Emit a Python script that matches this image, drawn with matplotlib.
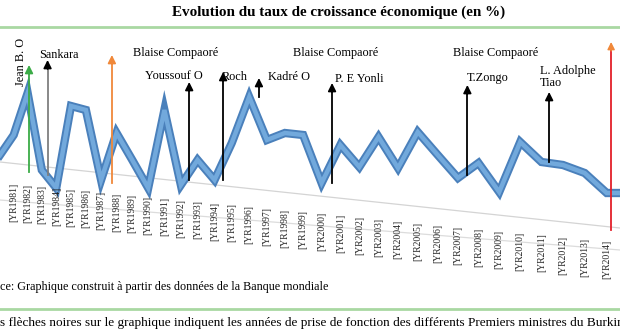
import matplotlib
matplotlib.use("Agg")
import matplotlib.pyplot as plt
import matplotlib.transforms as mtransforms
import numpy as np

# Growth rate of Burkina Faso (World Bank)
years = list(range(1980, 2016))
growth = [4.0, 6.0, 10.2, 2.5, 0.7, 8.9, 8.5, 1.5, 6.2, 3.5,
          0.7, 8.5, 1.0, 3.5, 1.5, 5.2, 9.8, 5.5, 6.2, 6.0,
          1.2, 5.0, 2.8, 5.8, 2.7, 6.3, 4.0, 1.7, 3.2, 0.3,
          5.3, 3.3, 3.0, 2.2, 0.2, 0.2]
tick_years = list(range(1981, 2015))
tick_labels = ["[YR%d]" % y for y in tick_years]

# arrows: year of taking office, bottom and top of the arrow (same units as growth)
arrow_years = [1982.1, 1983.4, 1987.7, 1992.5, 1994.5, 1996.55, 2000.56, 2007.46, 2011.36]
arrow_lo = [2.3, 2.0, 1.2, 1.5, 1.5, 9.8, 1.2, 2.0, 3.3]
arrow_hi = [13.0, 13.5, 14.0, 11.3, 12.3, 11.7, 11.2, 11.0, 10.3]
arrow_colors = ["#3bab47", "#7f7f7f", "#f0883a", "black", "black", "black", "black", "black", "black"]
red_year, red_lo, red_hi = 2014.2, -3.5, 15.3

# name labels (pixel positions on the 620x330 canvas)
names = ["Sankara", "Blaise Compaoré", "Youssouf O", "Roch", "Kadré O",
         "Blaise Compaoré", "P. E Yonli", "Blaise Compaoré", "T.Zongo", "L. Adolphe\nTiao"]
name_x = [39, 133, 145, 222, 268, 293, 335, 453, 467, 540]
name_y = [55, 53, 76, 77, 77, 53, 79, 53, 78, 77]

W, H = 620, 330
serif = "Liberation Serif"

# the scan has a perspective: years get wider to the right
A, B = 13.56, 0.126


def fwd(yr):
    t = np.asarray(yr, dtype=float) - 1980
    return A * t + B * t * t


def inv(px):
    px = np.asarray(px, dtype=float)
    return 1980 + (-A + np.sqrt(np.maximum(A * A + 4 * B * px, 0))) / (2 * B)


fig = plt.figure(figsize=(W / 100, H / 100), dpi=100)
ax = fig.add_axes([0, 0, 1, 1])
ax.set_xscale("function", functions=(fwd, inv))
ax.set_xlim(1980, float(inv(W)))
ax.set_ylim(-13.5, 19.5)
ax.set_xticks([])
ax.set_yticks([])
ax.minorticks_off()
for s in ax.spines.values():
    s.set_visible(False)

# faint skewed axis lines
ax.plot([0, 1], [1 - 162 / H, 1 - 228 / H], transform=ax.transAxes, color="#d4d4d4", lw=0.9)
ax.plot([0, 1], [1 - 200 / H, 1 - 250 / H], transform=ax.transAxes, color="#dcdcdc", lw=0.9)

# main series, light core over darker edge
ax.plot(years, growth, color="#4a80bb", lw=6, solid_joinstyle="miter", zorder=2)
ax.plot(years, growth, color="#72a9dc", lw=3.2, solid_joinstyle="miter", zorder=2)

# year labels following the slanted baseline
blend = mtransforms.blended_transform_factory(ax.transData, ax.transAxes)
for yr, lab in zip(tick_years, tick_labels):
    top = 181 + 0.097 * float(fwd(yr))
    ax.text(yr, 1 - top / H, lab, rotation=90, ha="center", va="top",
            fontsize=6.9, family=serif, color="#222222", transform=blend)

# arrows
for yr, lo, hi, c in zip(arrow_years, arrow_lo, arrow_hi, arrow_colors):
    head = "black" if c == "#7f7f7f" else c
    ax.plot([yr, yr], [lo, hi - 0.5], color=c, lw=1.3, zorder=3)
    ax.annotate("", xy=(yr, hi), xytext=(yr, hi - 0.9),
                arrowprops=dict(arrowstyle="-|>", color=head, lw=1.2, mutation_scale=12,
                                shrinkA=0, shrinkB=0), zorder=3)
ax.plot([red_year, red_year], [red_lo, red_hi - 0.5], color="#e3202a", lw=1.3, zorder=3)
ax.annotate("", xy=(red_year, red_hi), xytext=(red_year, red_hi - 0.9),
            arrowprops=dict(arrowstyle="-|>", color="#f0883a", lw=1, mutation_scale=11,
                            shrinkA=0, shrinkB=0), zorder=3)

# names
fig.text(21 / W, 1 - 62 / H, "Jean B. O", rotation=90, ha="center", va="center",
         fontsize=8.8, family=serif)
for t, x, y in zip(names, name_x, name_y):
    fig.text(x / W, 1 - y / H, t, ha="left", va="center", fontsize=8.8, family=serif,
             linespacing=1.05)

# title, separators and captions
fig.text(339 / W, 1 - 12 / H, "Evolution du taux de croissance économique (en %)",
         ha="center", va="center", fontsize=10.9, fontweight="bold", family=serif)
fig.add_artist(plt.Line2D([0, 1], [1 - 27 / H, 1 - 27 / H], color="#a9d8a2", lw=2))
fig.add_artist(plt.Line2D([0, 1], [1 - 309 / H, 1 - 309 / H], color="#a9d8a2", lw=2))
fig.text(328 / W, 1 - 287 / H, "Source: Graphique construit à partir des données de la Banque mondiale",
         ha="right", va="center", fontsize=8.7, family=serif)
fig.text(-14 / W, 1 - 323 / H,
         "Les flèches noires sur le graphique indiquent les années de prise de fonction "
         "des différents Premiers ministres du Burkina Faso",
         ha="left", va="center", fontsize=9.5, family=serif)

fig.savefig("out.png", dpi=100)
